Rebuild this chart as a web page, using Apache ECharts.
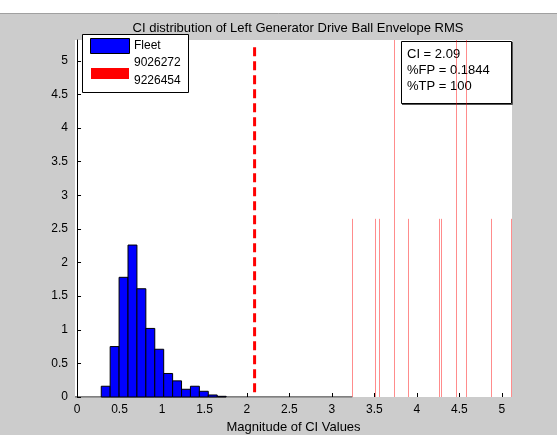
<!DOCTYPE html>
<html>
<head>
<meta charset="utf-8">
<script src="https://cdn.jsdelivr.net/npm/echarts@6/dist/echarts.min.js"></script>
<style>
  html, body { margin: 0; padding: 0; background: #cccccc; }
  #chart { width: 557px; height: 435px; }
</style>
</head>
<body>
<div id="chart"></div>
<script>
// Fleet CI histogram: bin edges start at binStart, each bin binWidth wide
var binStart = 0.285;
var binWidth = 0.105;
var fleetHeights = [0.16, 0.75, 1.78, 2.26, 1.61, 1.02, 0.71, 0.35, 0.24, 0.115, 0.16, 0.085, 0.03, 0.01];

// CI values of the two monitored units (thin red markers)
var unitValues = [3.241, 3.512, 3.555, 3.731, 3.893, 4.262, 4.285, 4.458, 4.576, 4.867, 5.106];
var unitHeights = [2.65, 2.65, 2.65, 5.31, 2.65, 2.65, 2.65, 5.31, 5.31, 2.65, 2.65];

// Threshold
var ciThreshold = 2.09;
var ciLineSpan = [0.07, 5.24];
var statsLines = ['CI = 2.09', '%FP = 0.1844', '%TP = 100'];

// Axes
var xRange = [-0.024, 5.12];
var yRange = [0, 5.31];
var xTicks = [0, 0.5, 1, 1.5, 2, 2.5, 3, 3.5, 4, 4.5, 5];
var yTicks = [0, 0.5, 1, 1.5, 2, 2.5, 3, 3.5, 4, 4.5, 5];
var axisLineEnd = 3.24;

var FONT = 'Liberation Sans, Arial, sans-serif';

var fleetData = fleetHeights.map(function (h, i) {
  return [binStart + i * binWidth, binStart + (i + 1) * binWidth, h];
});
var unitData = unitValues.map(function (v, i) { return [v, unitHeights[i]]; });

var chart = echarts.init(document.getElementById('chart'), null, { renderer: 'canvas' });

chart.setOption({
  backgroundColor: '#cccccc',
  animation: false,
  title: {
    text: 'CI distribution of Left Generator Drive Ball Envelope RMS',
    left: 293, top: 17, textAlign: 'center',
    textStyle: { fontFamily: FONT, fontSize: 13, fontWeight: 'normal', color: '#000' }
  },
  grid: {
    left: 75, right: 45, top: 40, bottom: 38,
    outerBoundsMode: 'none', containLabel: false,
    show: true, backgroundColor: '#ffffff', borderWidth: 0
  },
  xAxis: {
    type: 'value', min: xRange[0], max: xRange[1],
    name: 'Magnitude of CI Values', nameLocation: 'middle', nameGap: 22,
    nameTextStyle: { fontFamily: FONT, fontSize: 13, color: '#000' },
    axisLine: { show: false },
    axisTick: { show: true, inside: true, length: 4, customValues: xTicks, lineStyle: { color: '#000' } },
    axisLabel: { customValues: xTicks, margin: 7, fontFamily: FONT, fontSize: 12, color: '#000',
      formatter: function (v) { return String(v); } },
    splitLine: { show: false }
  },
  yAxis: {
    type: 'value', min: yRange[0], max: yRange[1],
    axisLine: { show: true, lineStyle: { color: '#000', width: 1 } },
    axisTick: { show: true, inside: true, length: 4, customValues: yTicks, lineStyle: { color: '#000' } },
    axisLabel: { customValues: yTicks, margin: 7, fontFamily: FONT, fontSize: 12, color: '#000',
      formatter: function (v) { return String(v); } },
    splitLine: { show: false }
  },
  series: [
    {
      // visible part of the x axis baseline
      type: 'line', data: [[xRange[0], 0], [axisLineEnd, 0]],
      symbol: 'none', lineStyle: { color: '#000', width: 1 }, z: 1, silent: true
    },
    {
      name: 'Fleet', type: 'custom', z: 3,
      renderItem: function (params, api) {
        var p0 = api.coord([api.value(0), api.value(2)]);
        var p1 = api.coord([api.value(1), 0]);
        return {
          type: 'rect',
          shape: { x: p0[0], y: p0[1], width: p1[0] - p0[0], height: p1[1] - p0[1] },
          style: { fill: '#0000ff', stroke: '#000', lineWidth: 1 }
        };
      },
      data: fleetData
    },
    {
      name: '9026272\n9226454', type: 'custom', z: 4,
      renderItem: function (params, api) {
        var top = api.coord([api.value(0), api.value(1)]);
        var bot = api.coord([api.value(0), 0]);
        var x = Math.round(top[0]) + 0.5;
        return {
          type: 'line',
          shape: { x1: x, y1: top[1], x2: x, y2: bot[1] },
          style: { stroke: 'rgba(255,0,0,0.45)', lineWidth: 1 }
        };
      },
      data: unitData
    },
    {
      type: 'line', z: 5, symbol: 'none',
      data: [[ciThreshold, ciLineSpan[0]], [ciThreshold, ciLineSpan[1]]],
      lineStyle: { color: '#ff0000', width: 3, type: [9, 5] }
    }
  ],
  graphic: [
    // window toolbar strip
    { type: 'rect', z: 0, shape: { x: 0, y: 0, width: 557, height: 13 }, style: { fill: '#ffffff' } },
    { type: 'line', z: 0, shape: { x1: 0, y1: 13.5, x2: 557, y2: 13.5 }, style: { stroke: '#a0a0a0', lineWidth: 1 } },
    // legend
    {
      type: 'group', z: 10,
      children: [
        { type: 'rect', shape: { x: 82.5, y: 34.5, width: 106, height: 58 }, style: { fill: '#fff', stroke: '#000', lineWidth: 1 } },
        { type: 'rect', shape: { x: 90.5, y: 38.5, width: 39, height: 15 }, style: { fill: '#0000ff', stroke: '#000', lineWidth: 1 } },
        { type: 'rect', shape: { x: 91, y: 68, width: 38, height: 11 }, style: { fill: '#ff0000' } },
        { type: 'text', x: 134, y: 46, style: { text: 'Fleet', font: '12px ' + FONT, fill: '#000', verticalAlign: 'middle' } },
        { type: 'text', x: 134, y: 63, style: { text: '9026272', font: '12px ' + FONT, fill: '#000', verticalAlign: 'middle' } },
        { type: 'text', x: 134, y: 81, style: { text: '9226454', font: '12px ' + FONT, fill: '#000', verticalAlign: 'middle' } }
      ]
    },
    // threshold statistics box
    {
      type: 'group', z: 2,
      children: [
        { type: 'rect', shape: { x: 401.5, y: 41.5, width: 110, height: 62 }, style: { fill: '#fff', stroke: '#000', lineWidth: 1 } },
        { type: 'line', shape: { x1: 402, y1: 104.5, x2: 512.5, y2: 104.5 }, style: { stroke: '#555', lineWidth: 1 } },
        { type: 'line', shape: { x1: 512.5, y1: 42, x2: 512.5, y2: 104.5 }, style: { stroke: '#555', lineWidth: 1 } },
        { type: 'text', x: 407, y: 54, style: { text: statsLines[0], font: '13px ' + FONT, fill: '#000', verticalAlign: 'middle' } },
        { type: 'text', x: 407, y: 70, style: { text: statsLines[1], font: '13px ' + FONT, fill: '#000', verticalAlign: 'middle' } },
        { type: 'text', x: 407, y: 86, style: { text: statsLines[2], font: '13px ' + FONT, fill: '#000', verticalAlign: 'middle' } }
      ]
    }
  ]
});
</script>
</body>
</html>
